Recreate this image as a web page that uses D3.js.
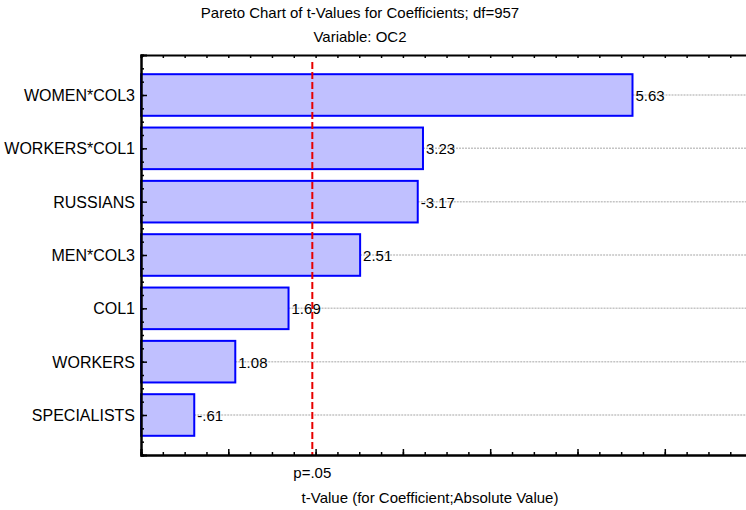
<!DOCTYPE html>
<html>
<head>
<meta charset="utf-8">
<script src="https://cdn.jsdelivr.net/npm/d3@7"></script>
<style>
  body { margin: 0; background: #fff; }
  text { font-family: "Liberation Sans", Arial, sans-serif; fill: #000; }
</style>
</head>
<body>
<div id="chart"></div>
<script>
// data
var effects = ['WOMEN*COL3', 'WORKERS*COL1', 'RUSSIANS', 'MEN*COL3', 'COL1', 'WORKERS', 'SPECIALISTS'];
var tValues = [5.63, 3.23, -3.17, 2.51, 1.69, 1.08, -0.61];
var pCrit = 1.9624;   // t critical value, p=.05, df=957
var pLabel = 'p=.05';
var title1 = 'Pareto Chart of t-Values for Coefficients; df=957';
var title2 = 'Variable: OC2';
var xTitle = 't-Value (for Coefficient;Absolute Value)';

var svgWidth = 746, svgHeight = 510;
var plotLeft = 141, plotTop = 55, plotBottom = 455;

var svg = d3.select('#chart').append('svg')
    .attr('width', svgWidth)
    .attr('height', svgHeight);

var x = d3.scaleLinear().domain([0, 7]).range([plotLeft, plotLeft + 7 * 87.3]);
var y = d3.scaleLinear().domain([0.25, 7.75]).range([plotTop, plotBottom]);

// format like "-.61" (plain hyphen, no leading zero)
function fmt(v) {
    return v.toFixed(2).replace(/^(-?)0\./, '$1.');
}

// grey dotted guide lines
svg.selectAll('.guide')
    .data(tValues)
    .enter().append('line')
    .attr('x1', function(d) { return x(Math.abs(d)); })
    .attr('x2', svgWidth)
    .attr('y1', function(d, i) { return y(i + 1); })
    .attr('y2', function(d, i) { return y(i + 1); })
    .attr('stroke', '#c4c4c4')
    .attr('stroke-width', 1.5)
    .attr('stroke-dasharray', '2,1');

// bars
svg.selectAll('.bar')
    .data(tValues)
    .enter().append('rect')
    .attr('x', x(0))
    .attr('y', function(d, i) { return y(i + 1 - 0.39); })
    .attr('width', function(d) { return x(Math.abs(d)) - x(0); })
    .attr('height', y(1.39) - y(0.61))
    .attr('fill', '#c0c0ff')
    .attr('stroke', '#0000ff')
    .attr('stroke-width', 2);

// value labels
svg.selectAll('.val')
    .data(tValues)
    .enter().append('text')
    .attr('x', function(d) { return x(Math.abs(d)) + 3; })
    .attr('y', function(d, i) { return y(i + 1) + 6; })
    .style('font-size', '15px')
    .text(fmt);

// critical value line
svg.append('line')
    .attr('x1', x(pCrit)).attr('x2', x(pCrit))
    .attr('y1', 62).attr('y2', plotBottom)
    .attr('stroke', '#e80000')
    .attr('stroke-width', 2)
    .attr('stroke-dasharray', '7,3');

// axes: ticks point inward
var minorX = d3.range(0, 7.01, 0.25);
var majorX = d3.range(0, 8, 1);
svg.append('g')
    .attr('transform', 'translate(0,' + plotBottom + ')')
    .call(d3.axisBottom(x).tickValues(minorX).tickSize(-3).tickFormat(''));
svg.append('g')
    .attr('transform', 'translate(0,' + plotBottom + ')')
    .call(d3.axisBottom(x).tickValues(majorX).tickSize(-6).tickFormat(''));
svg.append('g')
    .attr('transform', 'translate(0,' + plotTop + ')')
    .call(d3.axisTop(x).tickValues(minorX).tickSize(-3).tickFormat(''));

var minorY = d3.range(0.25, 7.76, 0.25);
svg.append('g')
    .attr('transform', 'translate(' + plotLeft + ',0)')
    .call(d3.axisLeft(y).tickValues(minorY).tickSize(-3).tickFormat(''));
svg.append('g')
    .attr('transform', 'translate(' + plotLeft + ',0)')
    .call(d3.axisLeft(y).tickValues(d3.range(1, 8)).tickSize(-6).tickFormat(''));

svg.selectAll('.domain').attr('stroke', '#000').attr('stroke-width', 2);
svg.selectAll('.tick line').attr('stroke', '#000').attr('stroke-width', 1.5);

// category labels
svg.selectAll('.cat')
    .data(effects)
    .enter().append('text')
    .attr('x', 135)
    .attr('y', function(d, i) { return y(i + 1) + 6; })
    .attr('text-anchor', 'end')
    .style('font-size', '16px')
    .text(function(d) { return d; });

// p label under the axis
svg.append('text')
    .attr('x', x(pCrit))
    .attr('y', 478)
    .attr('text-anchor', 'middle')
    .style('font-size', '15px')
    .text(pLabel);

// titles
svg.append('text')
    .attr('x', 360).attr('y', 18)
    .attr('text-anchor', 'middle')
    .style('font-size', '15px')
    .text(title1);
svg.append('text')
    .attr('x', 360).attr('y', 42)
    .attr('text-anchor', 'middle')
    .style('font-size', '15px')
    .text(title2);
svg.append('text')
    .attr('x', 430).attr('y', 503)
    .attr('text-anchor', 'middle')
    .style('font-size', '15px')
    .text(xTitle);
</script>
</body>
</html>
